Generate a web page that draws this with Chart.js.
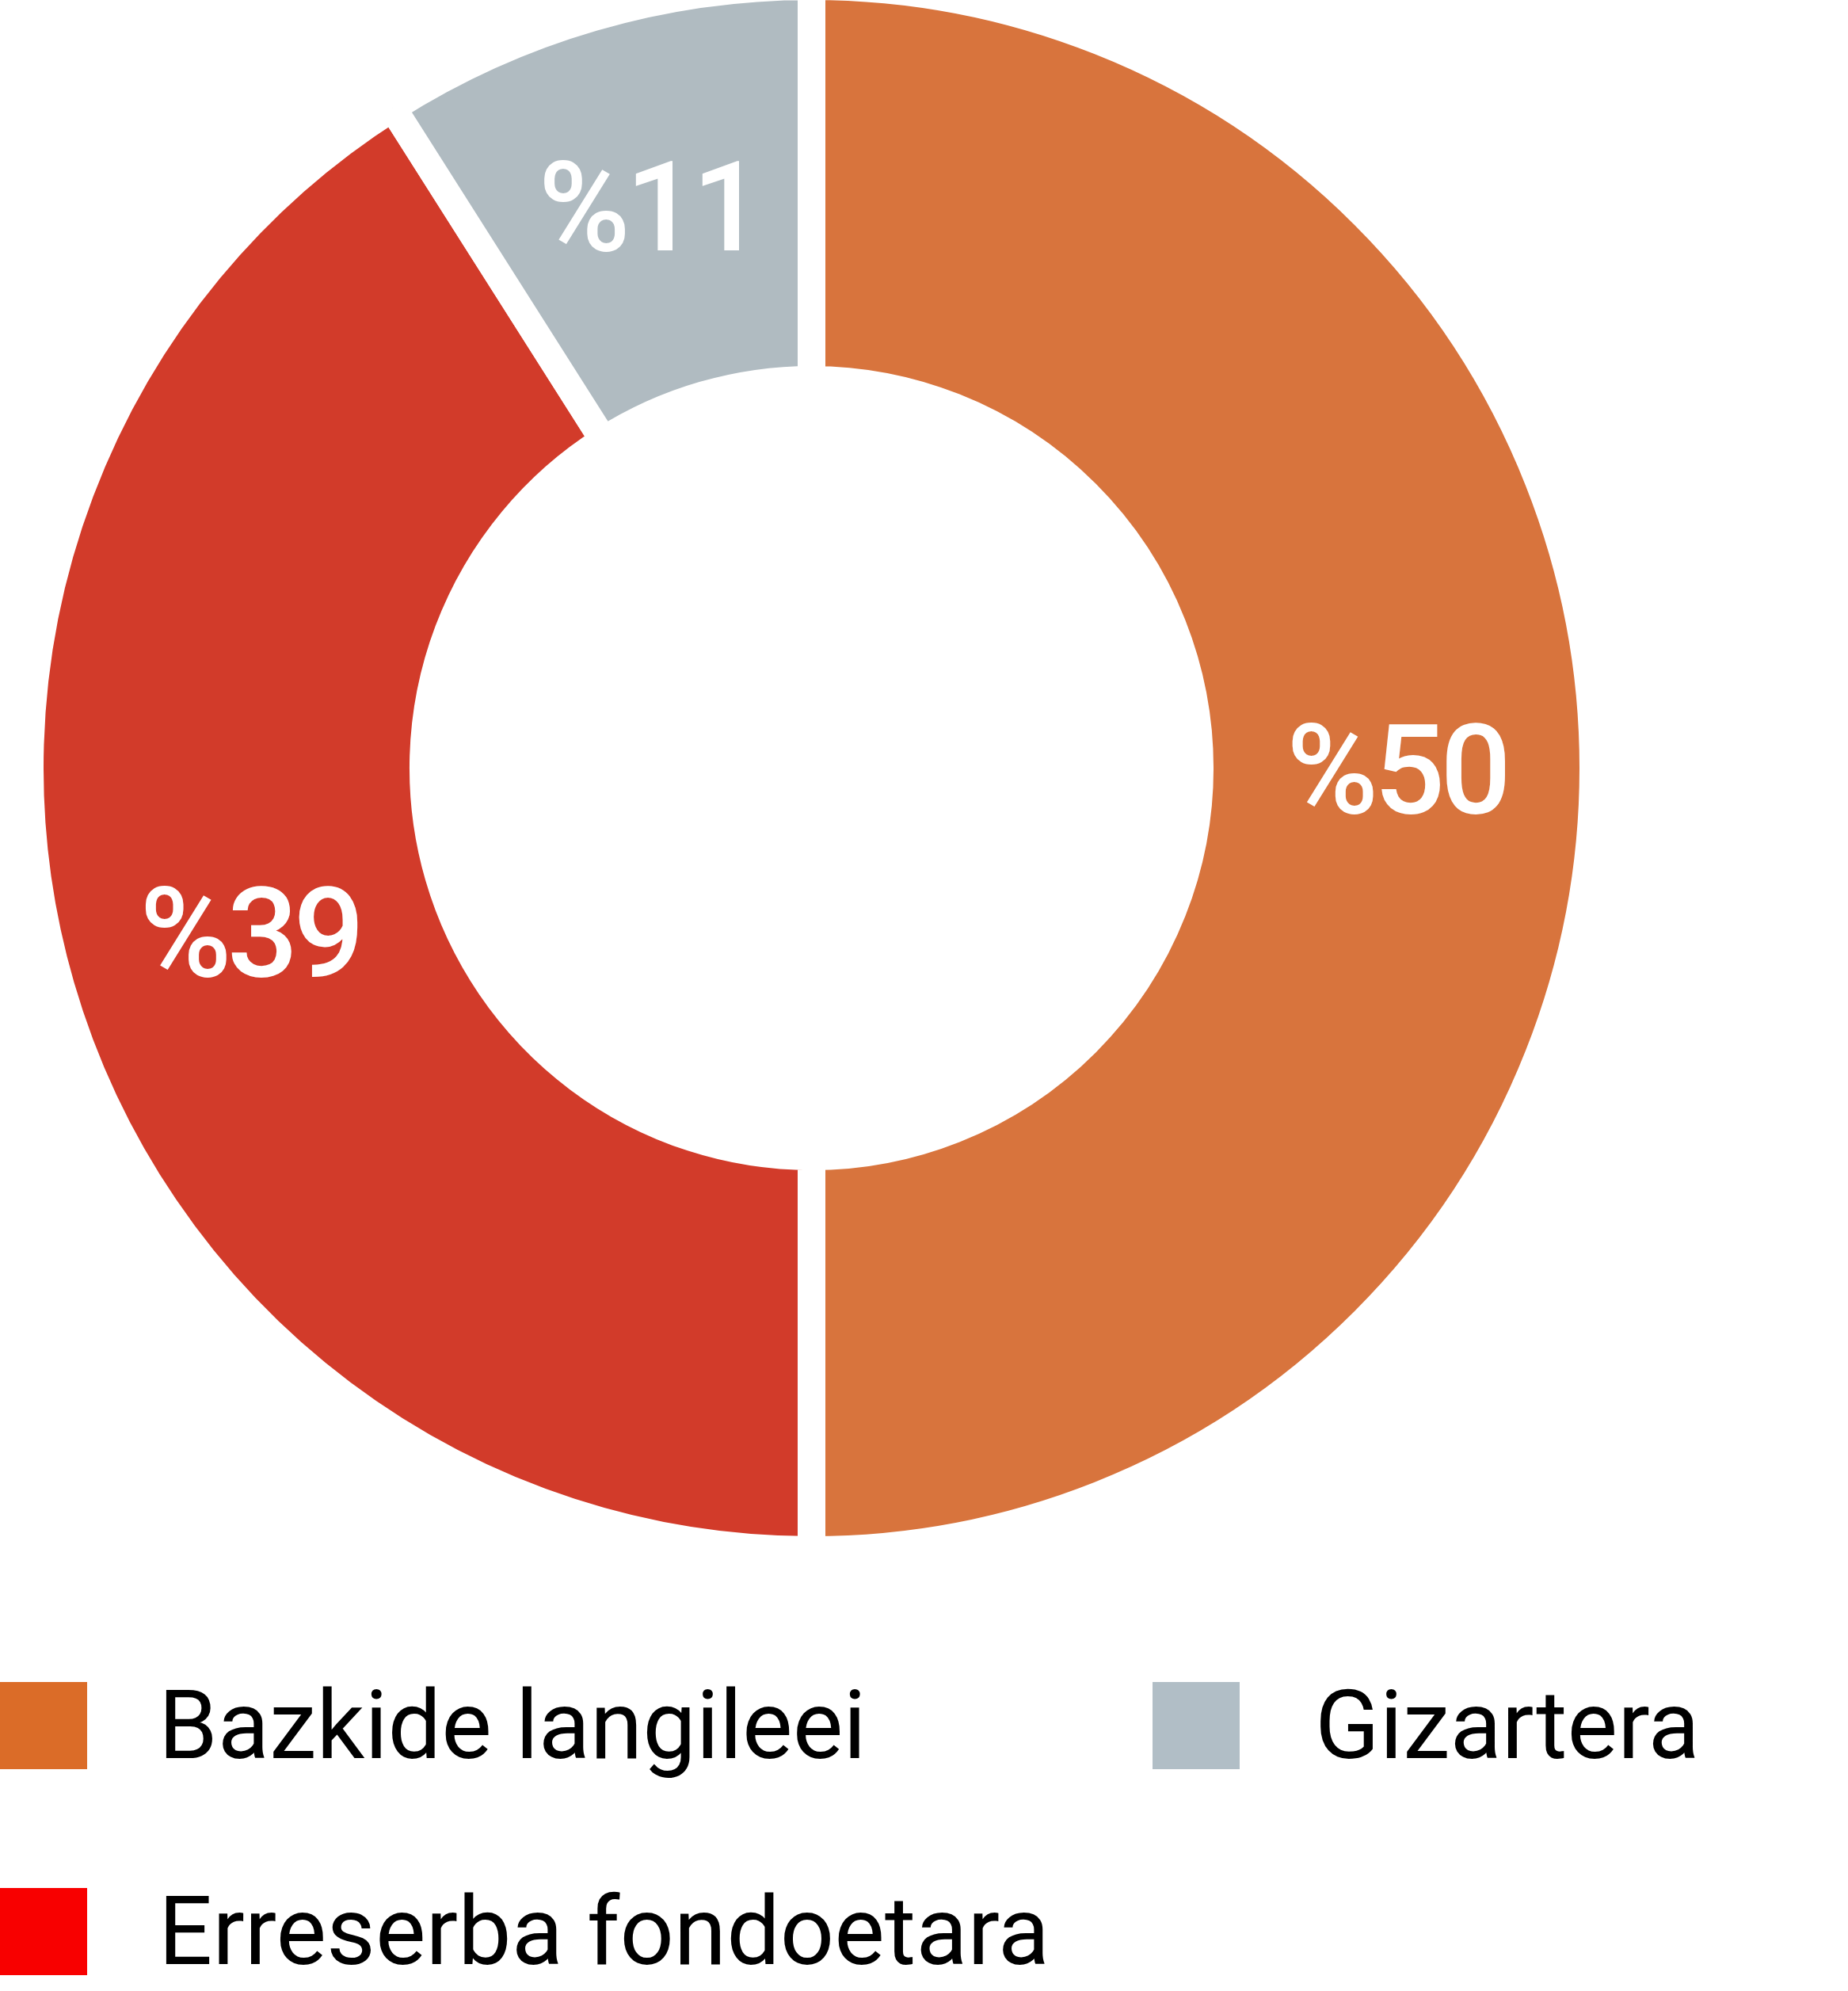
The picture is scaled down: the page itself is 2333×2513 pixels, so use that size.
<!DOCTYPE html>
<html>
<head>
<meta charset="utf-8">
<script src="https://cdn.jsdelivr.net/npm/chart.js@4.4.1/dist/chart.umd.min.js"></script>
<style>
  html, body { margin: 0; padding: 0; background: #fff; }
  body { width: 2333px; height: 2513px; position: relative; overflow: hidden; font-family: Roboto, sans-serif; }
  #chartBox { position: absolute; left: 20px; top: -35px; width: 2009px; height: 2009px; }
  #legend { position: absolute; left: 0; top: 2123px; display: grid; grid-template-columns: 1455px auto; row-gap: 150px; }
  .item { display: flex; align-items: center; height: 110px; }
  .swatch { width: 110px; height: 110px; flex: none; }
  .item span { font-size: 120px; color: #000; margin-left: 90px; white-space: nowrap; }
  .item.col2 span { margin-left: 95px; }
</style>
</head>
<body>
<div id="chartBox"><canvas id="myChart"></canvas></div>
<div id="legend"></div>
<script>
const categories = ["Bazkide langileei", "Erreserba fondoetara", "Gizartera"];
const shares = [50, 41, 9];                 // slice sizes as drawn
const shareLabels = ["%50", "%39", "%11"];  // text printed on the slices
const sliceColors = ["#D8743D", "#D23B2A", "#B0BBC1"];
const legendColors = ["#DB6C28", "#F80000", "#B1BEC6"];
const legendOrder = [0, 2, 1];

// legend: two columns, row by row
const legend = document.getElementById("legend");
legendOrder.forEach((idx, n) => {
  const item = document.createElement("div");
  item.className = "item" + (n % 2 ? " col2" : "");
  const sw = document.createElement("div");
  sw.className = "swatch";
  sw.style.background = legendColors[idx];
  const txt = document.createElement("span");
  txt.textContent = categories[idx];
  item.appendChild(sw);
  item.appendChild(txt);
  legend.appendChild(item);
});

const sliceLabels = {
  id: "sliceLabels",
  afterDatasetsDraw(chart) {
    const ctx = chart.ctx;
    const size = 158;
    ctx.save();
    ctx.font = "500 " + size + "px Roboto";
    ctx.letterSpacing = "-6px";
    ctx.fillStyle = "#ffffff";
    ctx.textAlign = "center";
    ctx.textBaseline = "alphabetic";
    chart.getDatasetMeta(0).data.forEach((arc, i) => {
      const p = arc.getCenterPoint();
      ctx.fillText(shareLabels[i], p.x, p.y + size * 0.711 / 2);
    });
    ctx.restore();
  }
};

document.fonts.load("500 158px Roboto").then(() => {
  new Chart("myChart", {
    type: "doughnut",
    data: {
      labels: categories,
      datasets: [{
        data: shares,
        backgroundColor: sliceColors,
        borderColor: "#ffffff",
        borderWidth: 35,
        borderAlign: "center",
        hoverOffset: 0
      }]
    },
    options: {
      responsive: true,
      maintainAspectRatio: false,
      animation: false,
      events: [],
      cutout: "49.65%",
      layout: { padding: 0 },
      plugins: {
        legend: { display: false },
        tooltip: { enabled: false }
      }
    },
    plugins: [sliceLabels]
  });
});
</script>
</body>
</html>
